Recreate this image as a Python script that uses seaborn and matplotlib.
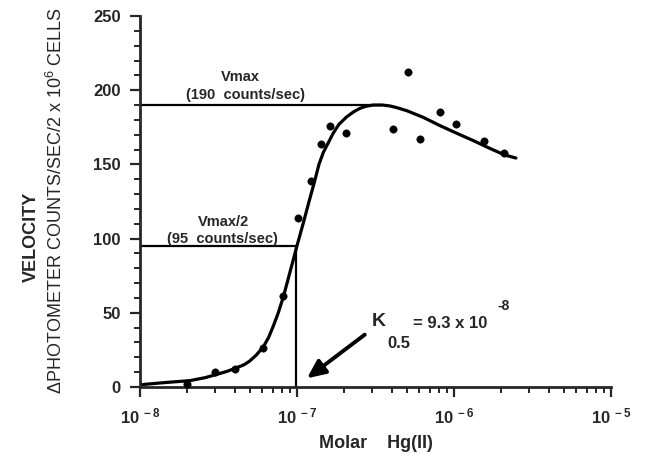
import numpy as np
import pandas as pd
import seaborn as sns
import matplotlib.pyplot as plt
from matplotlib.ticker import MultipleLocator, FixedLocator, FixedFormatter, LogLocator, NullFormatter

# measured points: molar Hg(II) vs velocity
hg_conc = [2.0e-8, 3.0e-8, 4.0e-8, 6.1e-8, 8.2e-8, 1.02e-7, 1.22e-7, 1.43e-7, 1.63e-7,
           2.05e-7, 4.1e-7, 5.1e-7, 6.1e-7, 8.2e-7, 1.03e-6, 1.55e-6, 2.08e-6]
velocity = [2, 10, 12, 26, 61, 114, 139, 164, 176, 171, 174, 212, 167, 185, 177, 166, 158]

# fitted curve
fit_conc = [1.0e-8, 1.41e-8, 2.08e-8, 2.6e-8, 3.08e-8, 3.6e-8, 4.08e-8, 4.6e-8, 5.0e-8,
            5.5e-8, 6.1e-8, 6.6e-8, 7.06e-8, 7.6e-8, 8.2e-8, 9.0e-8, 9.96e-8, 1.1e-7,
            1.2e-7, 1.29e-7, 1.38e-7, 1.47e-7, 1.70e-7, 1.85e-7, 2.07e-7, 2.3e-7, 2.52e-7,
            2.75e-7, 3.06e-7, 3.5e-7, 3.91e-7, 4.4e-7, 5.0e-7, 6.37e-7, 8.15e-7, 1.04e-6,
            1.33e-6, 1.69e-6, 2.11e-6, 2.48e-6]
fit_velocity = [1.5, 2.9, 4.3, 6.3, 8.5, 10.6, 12.8, 15.0, 17.5, 21.5, 27, 33.5, 41, 50,
                61, 77, 94.5, 111, 126, 138, 150, 158, 171, 177, 182, 185.5, 187.8, 189.2,
                190, 190, 189.4, 188, 186.2, 181.7, 176.1, 171, 166, 160.8, 156.3, 154.3]

vmax = 190
vmax_half = 95
k_half = 9.8e-8          # where the drop line sits on the axis
vmax_line_end = 3.5e-7

x_ticks = [1e-8, 1e-7, 1e-6, 1e-5]
x_tick_labels = [r"$\mathbf{10^{\ -8}}$", r"$\mathbf{10^{\ -7}}$", r"$\mathbf{10^{\ -6}}$", r"$\mathbf{10^{\ -5}}$"]
y_ticks = [0, 50, 100, 150, 200, 250]

sns.set_style("ticks")
plt.rcParams['font.family'] = ['Liberation Sans', 'DejaVu Sans']
plt.rcParams['mathtext.fontset'] = 'custom'
plt.rcParams['mathtext.rm'] = 'Liberation Sans'
plt.rcParams['mathtext.bf'] = 'Liberation Sans:bold'
plt.rcParams['mathtext.it'] = 'Liberation Sans'

fig = plt.figure(figsize=(6.46, 4.55), dpi=100)
ax = fig.add_axes([140 / 646, 68 / 455, 471 / 646, 371 / 455])

pts = pd.DataFrame({"conc": hg_conc, "vel": velocity})
fit = pd.DataFrame({"conc": fit_conc, "vel": fit_velocity})

sns.lineplot(data=fit, x="conc", y="vel", color="black", lw=2.3, ax=ax, sort=False)
sns.scatterplot(data=pts, x="conc", y="vel", color="black", s=28, edgecolor="black", ax=ax, clip_on=False, zorder=5)

# reference lines
ax.plot([1e-8, vmax_line_end], [vmax, vmax], color="black", lw=1.6)
ax.plot([1e-8, k_half], [vmax_half, vmax_half], color="black", lw=1.6)
ax.plot([k_half, k_half], [0, vmax_half], color="black", lw=1.6)

ax.set_xscale("log")
ax.set_xlim(1e-8, 1e-5)
ax.set_ylim(0, 250)

ax.xaxis.set_major_locator(FixedLocator(x_ticks))
ax.xaxis.set_major_formatter(FixedFormatter(x_tick_labels))
ax.xaxis.set_minor_locator(LogLocator(base=10, subs=np.arange(2, 10)))
ax.xaxis.set_minor_formatter(NullFormatter())
ax.set_yticks(y_ticks)
ax.yaxis.set_minor_locator(MultipleLocator(10))

ax.tick_params(which="major", length=7, width=1.6, labelsize=12, pad=7)
ax.tick_params(which="minor", length=4, width=1.4)
for lab in ax.get_yticklabels():
    lab.set_fontweight("bold")
for side in ["left", "bottom"]:
    ax.spines[side].set_linewidth(2)
sns.despine(ax=ax)

ax.set_xlabel("Molar    Hg(II)", fontsize=13, fontweight="bold", labelpad=6)
ax.set_ylabel("")

# annotations
ax.text(4.33e-8, 209, "Vmax", ha="center", va="center", fontsize=10.5, fontweight="bold")
ax.text(4.67e-8, 197, "(190  counts/sec)", ha="center", va="center", fontsize=10.5, fontweight="bold")
ax.text(3.38e-8, 111, "Vmax/2", ha="center", va="center", fontsize=10.5, fontweight="bold")
ax.text(3.33e-8, 100, "(95  counts/sec)", ha="center", va="center", fontsize=10.5, fontweight="bold")

ax.annotate("", xy=(1.12e-7, 4.7), xytext=(2.79e-7, 36.4),
            arrowprops=dict(arrowstyle="-|>,head_length=1.1,head_width=0.5", color="black", lw=2.8))
ax.text(3.0e-7, 41, "K", ha="left", va="baseline", fontsize=14, fontweight="bold")
ax.text(3.74e-7, 26.5, "0.5", ha="left", va="baseline", fontsize=12, fontweight="bold")
ax.text(5.48e-7, 40, "= 9.3 x 10", ha="left", va="baseline", fontsize=12, fontweight="bold")
ax.text(1.9e-6, 52, "-8", ha="left", va="baseline", fontsize=10, fontweight="bold")

fig.text(31 / 646, 1 - 237 / 455, "VELOCITY", rotation=90, ha="center", va="center",
         fontsize=13, fontweight="bold")
fig.text(56 / 646, 1 - 201 / 455, r"$\Delta$PHOTOMETER COUNTS/SEC/2 x 10$^{6}$ CELLS", rotation=90,
         ha="center", va="center", fontsize=13)

fig.savefig("out.png", dpi=100)
